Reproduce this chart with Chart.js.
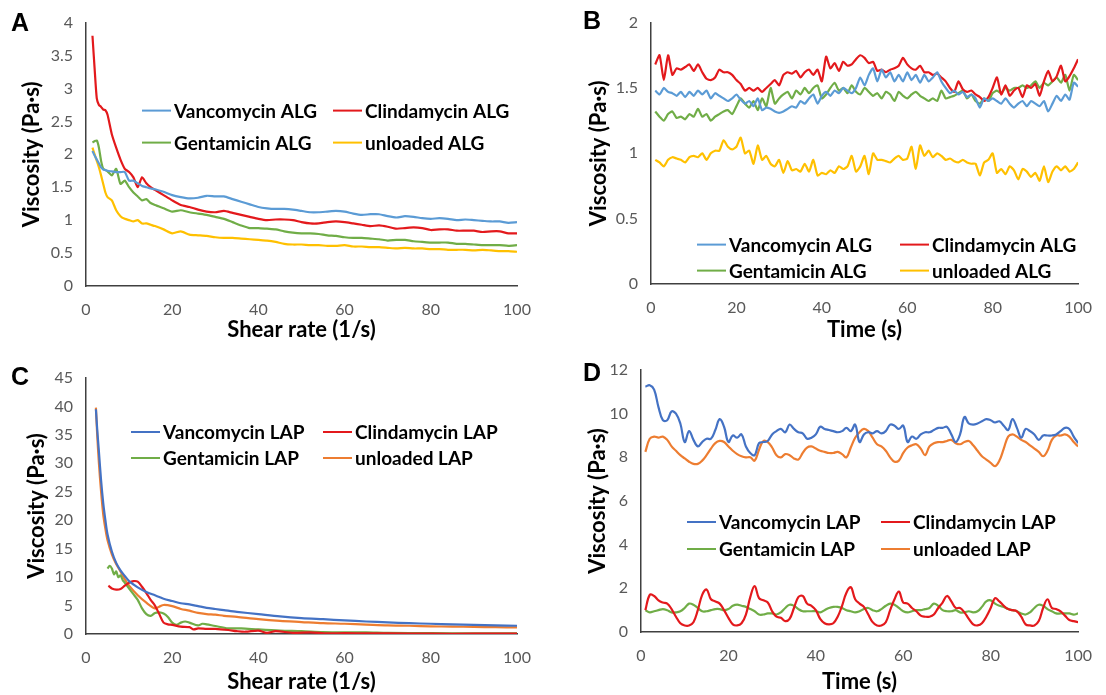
<!DOCTYPE html>
<html>
<head>
<meta charset="utf-8">
<script src="https://cdn.jsdelivr.net/npm/chart.js@4.4.1/dist/chart.umd.min.js"></script>
<style>
  body { margin: 0; background: #fff; width: 1106px; height: 695px; position: relative; overflow: hidden; }
  canvas { position: absolute; }
  .tag { position: absolute; font: bold 25px 'Liberation Sans', Arial, sans-serif; color: #000; line-height: 1; }
</style>
</head>
<body>
<canvas id="chartA" width="553" height="347" style="left:0;top:0"></canvas>
<canvas id="chartB" width="553" height="347" style="left:553px;top:0"></canvas>
<canvas id="chartC" width="553" height="348" style="left:0;top:347px"></canvas>
<canvas id="chartD" width="553" height="348" style="left:553px;top:347px"></canvas>
<div class="tag" style="left:11px;top:10px">A</div>
<div class="tag" style="left:583px;top:8px">B</div>
<div class="tag" style="left:11px;top:364px">C</div>
<div class="tag" style="left:583px;top:360px">D</div>
<script>
// ---- panel A: ALG, viscosity vs shear rate ----
const rateA = [1.5, 2, 2.5, 3, 3.5, 4, 4.5, 5, 6, 7, 8, 9, 10, 11, 12, 13, 14, 15, 16, 18, 20, 22, 24, 26, 28, 30, 32, 34, 36, 38, 40, 42, 44, 46, 48, 50, 52, 54, 56, 58, 60, 62, 64, 66, 68, 70, 72, 74, 76, 78, 80, 82, 84, 86, 88, 90, 92, 94, 96, 98, 100];
const vancoA = [2.05, 1.98, 1.92, 1.86, 1.8, 1.77, 1.76, 1.75, 1.74, 1.73, 1.73, 1.73, 1.6, 1.6, 1.56, 1.52, 1.5, 1.48, 1.47, 1.43, 1.38, 1.35, 1.33, 1.34, 1.37, 1.36, 1.36, 1.32, 1.28, 1.24, 1.2, 1.18, 1.17, 1.17, 1.16, 1.14, 1.12, 1.12, 1.13, 1.14, 1.13, 1.1, 1.08, 1.09, 1.09, 1.06, 1.04, 1.06, 1.05, 1.03, 1.02, 1.03, 1.02, 1.0, 1.01, 1.0, 0.99, 0.98, 0.98, 0.96, 0.97];
const clindaA = [3.8, 3.3, 2.85, 2.75, 2.72, 2.68, 2.67, 2.6, 2.3, 2.1, 1.92, 1.78, 1.73, 1.65, 1.5, 1.65, 1.56, 1.5, 1.46, 1.38, 1.3, 1.23, 1.2, 1.16, 1.13, 1.12, 1.14, 1.11, 1.08, 1.05, 1.02, 1.0, 1.01, 1.01, 1.0, 0.97, 0.95, 0.95, 0.97, 0.98, 0.97, 0.95, 0.93, 0.91, 0.92, 0.9, 0.87, 0.88, 0.89, 0.88, 0.85, 0.86, 0.86, 0.84, 0.84, 0.84, 0.82, 0.83, 0.83, 0.8, 0.8];
const gentaA = [2.18, 2.2, 2.21, 2.1, 1.9, 1.78, 1.76, 1.74, 1.68, 1.78, 1.55, 1.6, 1.5, 1.42, 1.36, 1.3, 1.32, 1.26, 1.23, 1.18, 1.13, 1.15, 1.12, 1.1, 1.08, 1.05, 1.02, 0.97, 0.92, 0.88, 0.88, 0.87, 0.86, 0.83, 0.81, 0.8, 0.8, 0.79, 0.77, 0.76, 0.74, 0.73, 0.73, 0.72, 0.71, 0.69, 0.7, 0.7, 0.68, 0.67, 0.66, 0.66, 0.66, 0.64, 0.64, 0.63, 0.62, 0.62, 0.62, 0.61, 0.62];
const unloadA = [2.1, 2.0, 1.9, 1.8, 1.68, 1.55, 1.42, 1.35, 1.3, 1.15, 1.06, 1.02, 1.0, 0.98, 1.0, 0.95, 0.95, 0.93, 0.91, 0.86, 0.8, 0.83, 0.78, 0.77, 0.76, 0.74, 0.73, 0.73, 0.72, 0.71, 0.7, 0.69, 0.67, 0.64, 0.63, 0.63, 0.62, 0.62, 0.61, 0.61, 0.62, 0.6, 0.6, 0.59, 0.59, 0.58, 0.57, 0.58, 0.57, 0.57, 0.56, 0.56, 0.55, 0.55, 0.55, 0.54, 0.55, 0.54, 0.53, 0.53, 0.52];

// ---- time axis shared by B and D ----
const seconds = [1, 2, 3, 4, 5, 6, 7, 8, 9, 10, 11, 12, 13, 14, 15, 16, 17, 18, 19, 20, 21, 22, 23, 24, 25, 26, 27, 28, 29, 30, 31, 32, 33, 34, 35, 36, 37, 38, 39, 40, 41, 42, 43, 44, 45, 46, 47, 48, 49, 50, 51, 52, 53, 54, 55, 56, 57, 58, 59, 60, 61, 62, 63, 64, 65, 66, 67, 68, 69, 70, 71, 72, 73, 74, 75, 76, 77, 78, 79, 80, 81, 82, 83, 84, 85, 86, 87, 88, 89, 90, 91, 92, 93, 94, 95, 96, 97, 98, 99, 100];

// ---- panel B: ALG, viscosity vs time ----
const vancoB = [1.48, 1.45, 1.5, 1.47, 1.46, 1.44, 1.47, 1.43, 1.47, 1.44, 1.48, 1.45, 1.48, 1.42, 1.46, 1.44, 1.42, 1.4, 1.42, 1.45, 1.41, 1.38, 1.4, 1.36, 1.42, 1.33, 1.35, 1.34, 1.32, 1.31, 1.32, 1.34, 1.36, 1.35, 1.4, 1.38, 1.42, 1.45, 1.38, 1.44, 1.47, 1.44, 1.48, 1.46, 1.5, 1.48, 1.46, 1.5, 1.58, 1.52, 1.6, 1.65, 1.55, 1.64, 1.58, 1.62, 1.55, 1.6, 1.55, 1.62, 1.56, 1.6, 1.54, 1.6, 1.55, 1.58, 1.62, 1.55, 1.5, 1.46, 1.48, 1.45, 1.47, 1.43, 1.45, 1.42, 1.35, 1.42, 1.4, 1.42, 1.4, 1.38, 1.42, 1.38, 1.35, 1.38, 1.4, 1.36, 1.4, 1.38, 1.36, 1.4, 1.32, 1.38, 1.44, 1.4, 1.45, 1.41, 1.54, 1.51];
const clindaB = [1.68, 1.75, 1.56, 1.75, 1.6, 1.65, 1.64, 1.66, 1.68, 1.63, 1.68, 1.62, 1.57, 1.56, 1.58, 1.64, 1.62, 1.62, 1.6, 1.56, 1.53, 1.48, 1.5, 1.48, 1.5, 1.47, 1.5, 1.53, 1.56, 1.52, 1.6, 1.62, 1.61, 1.63, 1.58, 1.62, 1.64, 1.6, 1.64, 1.55, 1.74, 1.65, 1.69, 1.63, 1.7, 1.67, 1.68, 1.72, 1.75, 1.73, 1.69, 1.7, 1.63, 1.64, 1.62, 1.64, 1.65, 1.67, 1.73, 1.68, 1.65, 1.64, 1.67, 1.62, 1.62, 1.6, 1.61, 1.58, 1.55, 1.5, 1.47, 1.55, 1.49, 1.47, 1.48, 1.45, 1.43, 1.4, 1.43, 1.5, 1.58, 1.45, 1.52, 1.44, 1.48, 1.5, 1.43, 1.52, 1.5, 1.53, 1.44, 1.55, 1.63, 1.55, 1.59, 1.67, 1.55, 1.59, 1.65, 1.72];
const gentaB = [1.32, 1.28, 1.25, 1.3, 1.32, 1.27, 1.28, 1.26, 1.3, 1.28, 1.34, 1.28, 1.3, 1.25, 1.28, 1.3, 1.32, 1.33, 1.3, 1.36, 1.42, 1.38, 1.35, 1.4, 1.33, 1.42, 1.36, 1.5, 1.38, 1.42, 1.45, 1.47, 1.42, 1.48, 1.45, 1.5, 1.46, 1.5, 1.52, 1.42, 1.45, 1.5, 1.54, 1.48, 1.5, 1.46, 1.52, 1.47, 1.45, 1.5, 1.47, 1.44, 1.46, 1.42, 1.47, 1.45, 1.4, 1.47, 1.44, 1.42, 1.45, 1.47, 1.44, 1.42, 1.4, 1.42, 1.4, 1.48, 1.42, 1.43, 1.44, 1.46, 1.48, 1.42, 1.45, 1.4, 1.38, 1.42, 1.4, 1.46, 1.48, 1.46, 1.5, 1.48, 1.5, 1.5, 1.52, 1.5, 1.52, 1.55, 1.5, 1.54, 1.52, 1.55, 1.58, 1.54, 1.6, 1.48, 1.6, 1.56];
const unloadB = [0.95, 0.93, 0.9, 0.95, 0.97, 0.96, 0.95, 0.93, 0.97, 0.98, 0.97, 1.0, 0.95, 1.0, 1.02, 1.02, 1.1, 1.05, 1.03, 1.05, 1.12, 1.0, 1.02, 0.92, 1.06, 0.95, 0.98, 0.92, 0.9, 0.95, 0.85, 0.94, 0.87, 0.88, 0.86, 0.92, 0.86, 0.95, 0.83, 0.85, 0.84, 0.87, 0.85, 0.9, 0.88, 0.9, 0.98, 0.86, 0.9, 0.98, 0.84, 1.0, 0.95, 0.95, 0.94, 0.93, 0.96, 0.98, 0.95, 0.96, 1.05, 0.88, 1.06, 0.98, 1.02, 0.97, 1.0, 0.98, 0.95, 0.96, 0.94, 0.93, 0.95, 0.93, 0.92, 0.92, 0.83, 0.93, 0.95, 1.0, 0.85, 0.88, 0.84, 0.9, 0.87, 0.8, 0.88, 0.86, 0.82, 0.85, 0.79, 0.9, 0.78, 0.86, 0.9, 0.87, 0.9, 0.86, 0.88, 0.93];

// ---- panel C: LAP, viscosity vs shear rate ----
const rateC = [2.3, 2.6, 3, 3.5, 4, 4.5, 5, 6, 7, 8, 9, 10, 12, 14, 16, 17, 18, 20, 22, 24, 26, 28, 30, 32, 35, 40, 45, 50, 55, 60, 65, 70, 75, 80, 85, 90, 95, 100];
const vancoC = [39.5, 36, 32, 27, 23, 20, 17.5, 14.5, 12.5, 11.2, 10.2, 9.3, 8.2, 7.4, 6.8, 6.5, 6.2, 5.8, 5.4, 5.2, 4.9, 4.6, 4.4, 4.2, 3.9, 3.5, 3.1, 2.8, 2.6, 2.4, 2.2, 2.05, 1.9, 1.8, 1.7, 1.6, 1.5, 1.45];
const unloadC = [39.8, 35, 30, 25, 21, 18.5, 16.5, 14, 12.3, 11, 9.6, 8.5, 6.8, 5.5, 4.5, 4.8, 5.1, 4.9, 4.4, 4.1, 3.7, 3.5, 3.4, 3.2, 3.0, 2.6, 2.3, 2.1, 1.9, 1.8, 1.65, 1.5, 1.45, 1.35, 1.3, 1.25, 1.2, 1.15];
const rateClindaC = [5.2, 6, 7, 8, 9, 10, 11, 12, 13, 14, 15, 16, 17, 18, 19, 20, 22, 24, 25, 26, 28, 30, 33, 35, 37, 40, 42, 44, 48, 52, 56, 60, 65, 70, 80, 90, 100];
const clindaC = [8.5, 8.0, 7.8, 7.9, 8.5, 9.0, 9.3, 9.2, 8.3, 7.2, 6.0, 5.0, 3.5, 2.0, 1.7, 1.6, 1.3, 1.2, 0.8, 1.0, 0.9, 0.9, 0.7, 0.5, 0.4, 0.6, 0.2, 0.5, 0.2, 0.3, 0.1, 0.15, 0.1, 0.1, 0.05, 0.05, 0.05];
const rateGentaC = [5, 5.5, 6, 6.5, 7, 7.5, 8, 8.5, 9, 10, 11, 12, 13, 14, 15, 16, 17, 18, 19, 20, 21, 22, 23, 24, 26, 27, 28, 30, 33, 36, 40, 45, 50, 55, 60, 65, 70, 80, 90, 100];
const gentaC = [11.5, 12.0, 11.5, 10.5, 11.0, 10.0, 10.3, 9.5, 9.0, 8.0, 7.0, 6.0, 4.5, 3.5, 3.2, 3.7, 3.8, 3.6, 3.0, 2.0, 1.6, 2.0, 2.2, 2.0, 1.5, 1.8, 1.7, 1.4, 1.0, 1.0, 0.8, 0.6, 0.5, 0.35, 0.3, 0.3, 0.2, 0.15, 0.1, 0.1];

// ---- panel D: LAP, viscosity vs time ----
const vancoD = [11.24, 11.3, 11.1, 10.3, 9.7, 9.7, 10.1, 10.0, 9.55, 8.7, 9.2, 8.8, 8.5, 8.7, 8.85, 8.85, 9.25, 9.75, 9.4, 8.7, 9.0, 8.9, 9.05, 8.5, 8.2, 8.1, 8.65, 8.7, 8.75, 9.05, 9.2, 9.3, 9.15, 9.5, 9.3, 9.15, 9.1, 8.85, 8.9, 9.05, 9.4, 9.3, 9.25, 9.2, 9.15, 9.2, 9.35, 9.2, 9.5, 8.7, 9.05, 9.15, 9.1, 9.2, 9.1, 9.2, 9.5, 9.45, 9.3, 9.45, 8.7, 8.95, 8.85, 9.05, 9.15, 9.15, 9.25, 9.35, 9.35, 9.4, 9.05, 8.7, 9.05, 9.85, 9.55, 9.5, 9.55, 9.65, 9.75, 9.7, 9.6, 9.65, 9.45, 9.25, 9.75, 9.35, 8.9, 9.3, 9.2, 9.05, 8.8, 9.0, 9.0, 9.0, 9.05, 9.2, 9.35, 9.3, 8.95, 8.65];
const clindaD = [1.0, 1.7, 1.65, 1.45, 1.35, 1.3, 1.05, 0.7, 0.4, 0.3, 0.3, 0.45, 1.0, 1.7, 1.95, 1.5, 1.4, 1.3, 1.0, 0.65, 0.35, 0.3, 0.4, 0.8, 1.6, 2.1, 1.55, 1.45, 1.35, 0.95, 0.7, 0.65, 0.5, 0.6, 1.1, 1.6, 1.65, 1.3, 1.2, 1.0, 0.6, 0.4, 0.35, 0.4, 0.7, 1.2, 1.8, 2.05, 1.5, 1.3, 1.15, 0.8, 0.45, 0.3, 0.3, 0.45, 1.0, 1.5, 1.85, 1.35, 1.3, 1.1, 0.95, 0.75, 0.7, 0.7, 0.8, 1.1, 1.35, 1.65, 1.4, 1.1, 1.1, 0.9, 0.6, 0.35, 0.3, 0.4, 0.7, 1.1, 1.55, 1.4, 1.2, 1.05, 1.0, 0.95, 0.7, 0.35, 0.3, 0.3, 0.5, 1.1, 1.5, 1.1, 1.05, 0.95, 0.75, 0.55, 0.5, 0.45];
const gentaD = [1.0, 0.9, 0.95, 1.0, 1.05, 1.0, 0.9, 0.9, 0.95, 1.1, 1.3, 1.25, 1.1, 0.95, 0.95, 1.0, 1.05, 1.05, 1.0, 1.05, 1.2, 1.25, 1.2, 1.15, 1.05, 0.95, 0.8, 0.8, 0.85, 0.85, 0.8, 0.9, 1.1, 1.25, 1.2, 1.05, 0.95, 0.95, 0.95, 0.95, 0.9, 1.0, 1.1, 1.15, 1.15, 1.1, 1.0, 0.95, 0.9, 0.95, 1.05, 1.1, 1.0, 0.95, 1.05, 1.2, 1.3, 1.25, 1.1, 0.95, 0.9, 0.95, 1.0, 1.0, 1.05, 1.1, 1.3, 1.2, 1.0, 0.95, 0.95, 1.0, 0.9, 0.9, 0.95, 0.9, 0.95, 1.15, 1.4, 1.45, 1.3, 1.2, 1.15, 1.05, 1.0, 0.95, 0.85, 0.8, 0.9, 1.1, 1.25, 1.2, 1.05, 0.95, 0.85, 0.85, 0.85, 0.85, 0.8, 0.85];
const unloadD = [8.25, 8.85, 8.95, 8.9, 8.95, 8.8, 8.5, 8.3, 8.1, 7.95, 7.8, 7.7, 7.7, 7.85, 8.1, 8.4, 8.65, 8.75, 8.7, 8.5, 8.3, 8.15, 8.05, 8.0, 8.0, 7.85, 8.35, 8.75, 8.7, 8.45, 8.1, 8.0, 8.15, 8.1, 7.95, 7.9, 8.2, 8.45, 8.5, 8.4, 8.3, 8.25, 8.2, 8.2, 8.25, 8.15, 8.0, 8.45, 8.9, 9.15, 9.3, 9.2, 8.9, 8.6, 8.5, 8.3, 8.0, 7.8, 7.85, 8.2, 8.45, 8.55, 8.6, 8.4, 8.1, 8.5, 8.65, 8.7, 8.7, 8.75, 8.8, 8.65, 8.6, 8.7, 8.75, 8.55, 8.3, 8.05, 7.9, 7.75, 7.6, 7.85, 8.4, 8.95, 9.05, 8.95, 8.8, 8.7, 8.55, 8.4, 8.25, 8.05, 8.3, 8.8, 9.0, 9.0, 9.05, 8.95, 8.7, 8.5];

const FONT = "Lato, 'Open Sans', sans-serif";
Chart.defaults.font.family = FONT;

const pts = (xs, ys) => xs.map((x, i) => ({ x: x, y: ys[i] }));

// legend drawn inside the plot, two columns by two rows
const inlineLegend = {
  id: 'inlineLegend',
  afterDraw(chart, args, opts) {
    const { ctx, chartArea } = chart;
    ctx.save();
    ctx.font = 'bold 19px ' + FONT;
    ctx.textBaseline = 'middle';
    chart.data.datasets.forEach((ds, i) => {
      const x = chartArea.left + opts.cols[i % 2];
      const y = chartArea.top + opts.rows[Math.floor(i / 2)];
      ctx.strokeStyle = ds.borderColor;
      ctx.lineWidth = 2;
      ctx.beginPath();
      ctx.moveTo(x, y);
      ctx.lineTo(x + 29, y);
      ctx.stroke();
      ctx.fillStyle = '#000';
      ctx.fillText(ds.label, x + 32, y + 1);
    });
    ctx.restore();
  }
};

function makeChart(id, datasets, yMax, yStep, xTitle, f) {
  const canvas = document.getElementById(id);
  const W = canvas.width, H = canvas.height;
  return new Chart(canvas, {
    type: 'line',
    data: { datasets: datasets },
    plugins: [inlineLegend],
    options: {
      responsive: false,
      animation: false,
      layout: { padding: { left: 0, top: f.top, right: W - f.right, bottom: 0 } },
      elements: {
        point: { radius: 0 },
        line: { borderWidth: 2.2, tension: f.tension }
      },
      plugins: {
        legend: { display: false },
        tooltip: { enabled: false },
        inlineLegend: { cols: f.cols, rows: f.rows }
      },
      scales: {
        x: {
          type: 'linear', min: 0, max: 100,
          ticks: { stepSize: 20, padding: 14, color: '#595959', font: { size: 16 } },
          grid: { drawOnChartArea: false, drawTicks: false },
          border: { color: '#404040', width: 1.5 },
          title: { display: true, text: xTitle, color: '#000', font: { size: 22, weight: 'bold' }, padding: { top: 0, bottom: f.xPad } },
          afterFit: (s) => { s.height = H - f.bottom; }
        },
        y: {
          min: 0, max: yMax,
          ticks: { stepSize: yStep, padding: 13, color: '#595959', font: { size: 16 }, callback: (v) => String(v) },
          grid: { drawOnChartArea: false, drawTicks: false },
          border: { color: '#404040', width: 1.5 },
          title: { display: true, text: 'Viscosity (Pa·s)', color: '#000', font: { size: 22, weight: 'bold' }, padding: { top: f.yPad, bottom: 0 } },
          afterFit: (s) => { s.width = f.left; }
        }
      }
    }
  });
}

const C_VAN_ALG = '#5B9BD5', C_VAN_LAP = '#4472C4';
const C_RED = '#E3191C', C_GREEN = '#70AD47', C_YEL = '#FFC000', C_ORG = '#ED7D31';

makeChart('chartA', [
  { label: 'Vancomycin ALG', data: pts(rateA, vancoA), borderColor: C_VAN_ALG },
  { label: 'Clindamycin ALG', data: pts(rateA, clindaA), borderColor: C_RED },
  { label: 'Gentamicin ALG', data: pts(rateA, gentaA), borderColor: C_GREEN },
  { label: 'unloaded ALG', data: pts(rateA, unloadA), borderColor: C_YEL }
], 4, 0.5, 'Shear rate (1/s)',
  { left: 86, right: 517, top: 22, bottom: 286, yPad: 19, xPad: 4, tension: 0.2, cols: [56, 247], rows: [88, 120] });

makeChart('chartB', [
  { label: 'Vancomycin ALG', data: pts(seconds, vancoB), borderColor: C_VAN_ALG },
  { label: 'Clindamycin ALG', data: pts(seconds, clindaB), borderColor: C_RED },
  { label: 'Gentamicin ALG', data: pts(seconds, gentaB), borderColor: C_GREEN },
  { label: 'unloaded ALG', data: pts(seconds, unloadB), borderColor: C_YEL }
], 2, 0.5, 'Time (s)',
  { left: 98, right: 529, top: 20, bottom: 284, yPad: 33, xPad: 4, tension: 0.2, cols: [46, 249], rows: [222, 248] });

makeChart('chartC', [
  { label: 'Vancomycin LAP', data: pts(rateC, vancoC), borderColor: C_VAN_LAP },
  { label: 'Clindamycin LAP', data: pts(rateClindaC, clindaC), borderColor: C_RED },
  { label: 'Gentamicin LAP', data: pts(rateGentaC, gentaC), borderColor: C_GREEN },
  { label: 'unloaded LAP', data: pts(rateC, unloadC), borderColor: C_ORG }
], 45, 5, 'Shear rate (1/s)',
  { left: 86, right: 517, top: 31, bottom: 287, yPad: 24, xPad: 0, tension: 0.3, cols: [45, 237], rows: [54, 80] });

makeChart('chartD', [
  { label: 'Vancomycin LAP', data: pts(seconds, vancoD), borderColor: C_VAN_LAP },
  { label: 'Clindamycin LAP', data: pts(seconds, clindaD), borderColor: C_RED },
  { label: 'Gentamicin LAP', data: pts(seconds, gentaD), borderColor: C_GREEN },
  { label: 'unloaded LAP', data: pts(seconds, unloadD), borderColor: C_ORG }
], 12, 2, 'Time (s)',
  { left: 88, right: 528, top: 23, bottom: 285, yPad: 32, xPad: 0, tension: 0.4, cols: [46, 240], rows: [152, 179] });
</script>
</body>
</html>
